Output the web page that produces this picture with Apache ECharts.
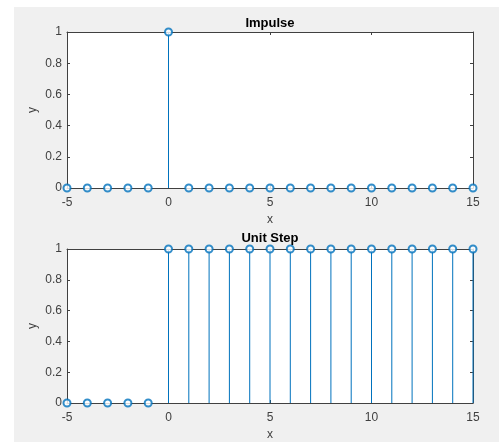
<!DOCTYPE html>
<html>
<head>
<meta charset="utf-8">
<script src="https://cdn.jsdelivr.net/npm/echarts@6/dist/echarts.min.js"></script>
<style>
  html, body { margin: 0; padding: 0; background: #fff; }
  #wrap { position: relative; width: 499px; height: 442px; overflow: hidden; }
  #chart { position: absolute; left: 14px; top: 7px; width: 485px; height: 435px; }
</style>
</head>
<body>
<div id="wrap"><div id="chart"></div></div>
<script>
  // sample index n
  const n = [-5, -4, -3, -2, -1, 0, 1, 2, 3, 4, 5, 6, 7, 8, 9, 10, 11, 12, 13, 14, 15];
  const impulse = [0, 0, 0, 0, 0, 1, 0, 0, 0, 0, 0, 0, 0, 0, 0, 0, 0, 0, 0, 0, 0];
  const unitStep = [0, 0, 0, 0, 0, 1, 1, 1, 1, 1, 1, 1, 1, 1, 1, 1, 1, 1, 1, 1, 1];
  const titles = ['Impulse', 'Unit Step'];

  const stemColor = '#0072BD';
  const axisColor = '#404040';
  const font = 'Liberation Sans, Arial, sans-serif';

  const chart = echarts.init(document.getElementById('chart'));

  const grids = [
    { left: 53, top: 25, width: 406, height: 156 },
    { left: 53, top: 242, width: 406, height: 155 }
  ];
  const titleOffset = [15, 17];

  function xAxes(i) {
    return [
      {
        gridIndex: i, type: 'value', min: -5, max: 15, interval: 5, position: 'bottom',
        name: 'x', nameLocation: 'middle', nameGap: 26,
        nameTextStyle: { color: axisColor, fontSize: 12, fontFamily: font },
        axisLine: { onZero: false, lineStyle: { color: axisColor, width: 1 } },
        axisTick: { inside: true, length: 3, lineStyle: { color: axisColor } },
        axisLabel: { color: axisColor, fontSize: 12, fontFamily: font, margin: 9 },
        splitLine: { show: false }
      },
      {
        gridIndex: i, type: 'value', min: -5, max: 15, interval: 5, position: 'top',
        axisLine: { onZero: false, lineStyle: { color: axisColor, width: 1 } },
        axisTick: { inside: true, length: 3, lineStyle: { color: axisColor } },
        axisLabel: { show: false },
        splitLine: { show: false }
      }
    ];
  }

  function yAxes(i) {
    return [
      {
        gridIndex: i, type: 'value', min: 0, max: 1, interval: 0.2, position: 'left',
        name: 'y', nameLocation: 'middle', nameGap: 28, nameRotate: 90, nameMoveOverlap: false,
        nameTextStyle: { color: axisColor, fontSize: 12, fontFamily: font },
        axisLine: { show: true, onZero: false, lineStyle: { color: axisColor, width: 1 } },
        axisTick: { show: true, inside: true, length: 3, lineStyle: { color: axisColor } },
        axisLabel: { color: axisColor, fontSize: 12, fontFamily: font, margin: 5 },
        splitLine: { show: false }
      },
      {
        gridIndex: i, type: 'value', min: 0, max: 1, interval: 0.2, position: 'right',
        axisLine: { show: true, onZero: false, lineStyle: { color: axisColor, width: 1 } },
        axisTick: { show: true, inside: true, length: 3, lineStyle: { color: axisColor } },
        axisLabel: { show: false },
        splitLine: { show: false }
      }
    ];
  }

  const seriesData = [impulse, unitStep];
  const series = [];
  seriesData.forEach(function (vals, i) {
    const pts = n.map(function (x, k) { return [x, vals[k]]; });
    series.push({
      type: 'bar', xAxisIndex: i * 2, yAxisIndex: i * 2, barWidth: 1,
      itemStyle: { color: stemColor }, data: pts, silent: true, z: 3
    });
    series.push({
      type: 'scatter', xAxisIndex: i * 2, yAxisIndex: i * 2,
      symbol: 'emptyCircle', symbolSize: 7, clip: false,
      itemStyle: { color: stemColor, borderColor: stemColor, borderWidth: 1 },
      data: pts, silent: true, z: 5
    });
  });

  const option = {
    backgroundColor: '#f0f0f0',
    animation: false,
    title: titles.map(function (t, i) {
      return {
        text: t, left: grids[i].left + grids[i].width / 2, top: grids[i].top - titleOffset[i],
        textAlign: 'center', padding: 0,
        textStyle: { fontSize: 13, fontWeight: 'bold', color: '#000', fontFamily: font }
      };
    }),
    grid: grids.map(function (g) {
      return Object.assign({ show: true, backgroundColor: '#fff', borderWidth: 0 }, g);
    }),
    xAxis: xAxes(0).concat(xAxes(1)),
    yAxis: yAxes(0).concat(yAxes(1)),
    series: series
  };

  chart.setOption(option);
</script>
</body>
</html>
